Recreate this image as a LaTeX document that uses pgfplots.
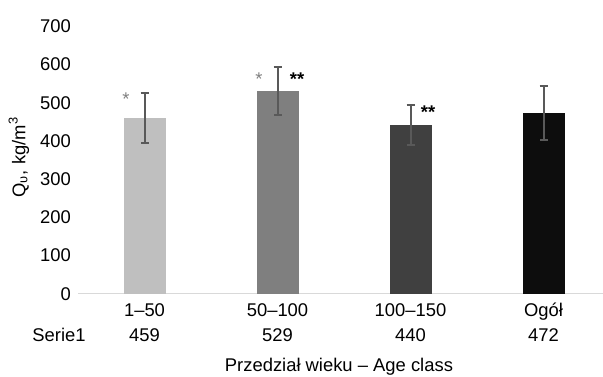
\documentclass[border=0pt]{standalone}
\usepackage{fontspec}
\setmainfont{Liberation Sans}
\usepackage{pgfplots}
\pgfplotsset{compat=1.18}
\definecolor{c1}{HTML}{BFBFBF}
\definecolor{c2}{HTML}{7F7F7F}
\definecolor{c3}{HTML}{404040}
\definecolor{c4}{HTML}{0D0D0D}
\definecolor{errc}{HTML}{595959}
\definecolor{axc}{HTML}{D9D9D9}
\definecolor{stc}{HTML}{808080}
\begin{document}
\begin{tikzpicture}[font=\fontsize{9.2}{11}\selectfont]
\path[use as bounding box] (0,0) rectangle (301.5pt,188pt);
\begin{axis}[
  at={(39pt,41.25pt)}, anchor=south west,
  scale only axis, width=262.5pt, height=133.75pt,
  xmin=-0.5, xmax=3.447, ymin=0, ymax=700,
  axis x line*=bottom, axis y line*=left,
  x axis line style={draw=axc, line width=0.75pt},
  y axis line style={draw=none},
  xtick={0,1,2,3}, xticklabels={1–50,50–100,100–150,Ogół},
  ytick={0,100,...,700},
  major tick length=0pt,
  /pgf/number format/assume math mode=true,
  xticklabel style={anchor=center, yshift=-8.25pt, text height=6.6pt, text depth=0pt},
  yticklabel style={text height=6.6pt, text depth=0pt},
  ybar, bar width=21pt, bar shift=0pt,
  clip=false,
  error bars/y dir=both, error bars/y explicit,
  error bars/error bar style={draw=errc, line width=1pt},
  error bars/error mark options={rotate=90, draw=errc, mark size=2pt, line width=1pt},
  every node/.append style={text height=6.6pt, text depth=0pt},
]
\addplot[fill=c1, draw=none] coordinates {(0,459) +- (0,65)};
\addplot[fill=c2, draw=none] coordinates {(1,529) +- (0,63)};
\addplot[fill=c3, draw=none] coordinates {(2,440) +- (0,52)};
\addplot[fill=c4, draw=none] coordinates {(3,472) +- (0,70)};

\node[anchor=base, text=stc] at (axis cs:-0.139,491) {*};
\node[anchor=base, text=stc] at (axis cs:0.861,544) {*};
\node[anchor=base] at (axis cs:1.147,544) {\textbf{**}};
\node[anchor=base] at (axis cs:2.132,457) {\textbf{**}};

\node[anchor=center] at (axis cs:-0.643,-108.6) {Serie1};
\node[anchor=center] at (axis cs:0,-108.6) {459};
\node[anchor=center] at (axis cs:1,-108.6) {529};
\node[anchor=center] at (axis cs:2,-108.6) {440};
\node[anchor=center] at (axis cs:3,-108.6) {472};
\node[anchor=center] at (axis cs:1.462,-192.3) {Przedział wieku – Age class};
\node[anchor=center, rotate=90] at (axis cs:-0.944,357) {Q\textsubscript{υ}, kg/m\textsuperscript{3}};
\end{axis}
\end{tikzpicture}
\end{document}
